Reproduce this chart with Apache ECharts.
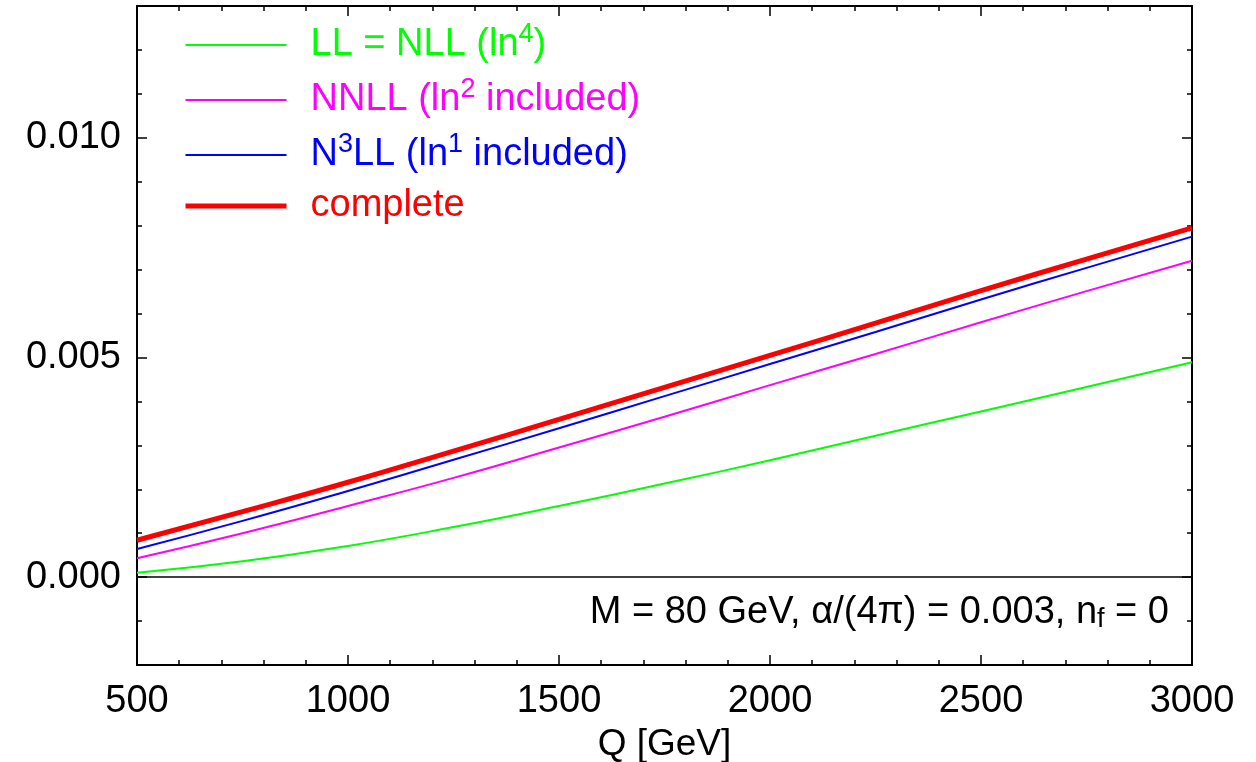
<!DOCTYPE html>
<html>
<head>
<meta charset="utf-8">
<script src="https://cdn.jsdelivr.net/npm/echarts@6/dist/echarts.min.js"></script>
<style>
  html, body { margin: 0; padding: 0; background: #fff; }
  #chart { width: 1256px; height: 762px; }
</style>
</head>
<body>
<div id="chart"></div>
<script>
// values
const qValues = [500, 750, 1000, 1250, 1500, 1750, 2000, 2250, 2500, 2750, 3000]
const llNll = [0.00010, 0.00036, 0.00071, 0.00114, 0.00162, 0.00213, 0.00266, 0.00322, 0.00377, 0.00433, 0.00489]
const nnll = [0.00043, 0.00100, 0.00162, 0.00226, 0.00295, 0.00365, 0.00437, 0.00508, 0.00580, 0.00651, 0.00720]
const n3ll = [0.00064, 0.00128, 0.00196, 0.00267, 0.00339, 0.00412, 0.00485, 0.00558, 0.00632, 0.00704, 0.00775]
const complete = [0.00084, 0.00149, 0.00216, 0.00287, 0.00359, 0.00432, 0.00505, 0.00578, 0.00652, 0.00724, 0.00795]

const seriesNames = ['LL = NLL', 'NNLL', 'N3LL', 'complete']
const seriesColors = ['#00ff00', '#ff00ff', '#0000ff', '#ff0000']
const lineWidths = [2, 2, 2, 5]
const legendLabels = [
  '{g|LL = NLL (ln}{gs|4}{g|)}',
  '{m|NNLL (ln}{ms|2}{m| included)}',
  '{b|N}{bs|3}{b|LL (ln}{bs|1}{b| included)}',
  '{r|complete}'
]
const yLabelValues = [0, 0.005, 0.01]

const font = 'Liberation Sans'
const pairs = ys => qValues.map((q, i) => [q, ys[i]])

const main = (color) => ({ color, fontSize: 38, lineHeight: 40, fontFamily: font, fontWeight: 'normal' })
const sup = (color) => ({
  color, fontSize: 27, lineHeight: 20, verticalAlign: 'bottom', padding: [0, 0, 17, 0],
  fontFamily: font, fontWeight: 'normal'
})

const chart = echarts.init(document.getElementById('chart'))

const frame = { show: true, onZero: false, lineStyle: { color: '#000', width: 2 } }
const tickStyle = { color: '#000', width: 1.5 }

const lineSeries = (i, ys) => ({
  name: seriesNames[i], type: 'line', data: pairs(ys), smooth: 0.5, symbol: 'none',
  lineStyle: { color: seriesColors[i], width: lineWidths[i] }, itemStyle: { color: seriesColors[i] }
})

const greenSeries = lineSeries(0, llNll)
// zero line
greenSeries.markLine = {
  silent: true, symbol: ['none', 'none'], label: { show: false },
  lineStyle: { color: '#000', width: 1.5, type: 'solid' },
  data: [{ yAxis: 0 }]
}

const option = {
  animation: false,
  backgroundColor: '#fff',
  grid: { left: 137, right: 64, top: 6, bottom: 97, outerBoundsMode: 'none', containLabel: false },
  title: {
    text: '{a|M = 80 GeV, α/(4π) = 0.003, n}{s|f}{a| = 0}',
    right: 87,
    top: 593,
    padding: 0,
    textStyle: {
      rich: {
        a: { color: '#000', fontSize: 38, lineHeight: 40, fontFamily: font, fontWeight: 'normal' },
        s: { color: '#000', fontSize: 27, lineHeight: 22, verticalAlign: 'bottom', fontFamily: font, fontWeight: 'normal' }
      }
    }
  },
  legend: {
    orient: 'vertical',
    left: 183,
    top: 21,
    itemWidth: 101,
    itemHeight: 40,
    itemGap: 11,
    padding: 0,
    itemStyle: { opacity: 0 },
    data: seriesNames.map((name, i) => ({
      name, lineStyle: { color: seriesColors[i], width: lineWidths[i] }
    })),
    formatter: name => legendLabels[seriesNames.indexOf(name)],
    textStyle: {
      padding: [0, 0, 0, 19],
      lineHeight: 40,
      rich: {
        g: main('#00ff00'), gs: sup('#00ff00'),
        m: main('#ff00ff'), ms: sup('#ff00ff'),
        b: main('#0000ff'), bs: sup('#0000ff'),
        r: main('#ff0000')
      }
    }
  },
  xAxis: [
    {
      type: 'value', position: 'bottom', min: 500, max: 3000, interval: 500,
      name: 'Q [GeV]', nameLocation: 'middle', nameGap: 56,
      nameTextStyle: { color: '#000', fontSize: 37, fontFamily: font },
      axisLine: frame,
      axisTick: { inside: true, length: 10, lineStyle: tickStyle },
      minorTick: { show: true, splitNumber: 5, length: 5, lineStyle: tickStyle },
      axisLabel: { color: '#000', fontSize: 38, fontFamily: font, margin: 18, formatter: v => String(v) },
      splitLine: { show: false }
    },
    {
      type: 'value', position: 'top', min: 500, max: 3000, interval: 500,
      axisLine: frame,
      axisTick: { inside: true, length: 10, lineStyle: tickStyle },
      minorTick: { show: true, splitNumber: 5, length: 5, lineStyle: tickStyle },
      axisLabel: { show: false },
      splitLine: { show: false }
    }
  ],
  yAxis: [
    {
      type: 'value', position: 'left', min: -0.002, max: 0.013, interval: 0.001,
      axisLine: frame,
      axisTick: { inside: true, length: 5, lineStyle: tickStyle },
      axisLabel: {
        color: '#000', fontSize: 38, fontFamily: font, margin: 16,
        formatter: v => yLabelValues.some(t => Math.abs(t - v) < 1e-9) ? v.toFixed(3) : ''
      },
      splitLine: { show: false }
    },
    {
      type: 'value', position: 'left', min: -0.002, max: 0.013,
      axisLine: { show: false },
      axisTick: { inside: true, length: 10, lineStyle: tickStyle, customValues: yLabelValues },
      axisLabel: { show: false },
      splitLine: { show: false }
    },
    {
      type: 'value', position: 'right', min: -0.002, max: 0.013, interval: 0.001,
      axisLine: frame,
      axisTick: { inside: true, length: 5, lineStyle: tickStyle },
      axisLabel: { show: false },
      splitLine: { show: false }
    },
    {
      type: 'value', position: 'right', min: -0.002, max: 0.013,
      axisLine: { show: false },
      axisTick: { inside: true, length: 10, lineStyle: tickStyle, customValues: yLabelValues },
      axisLabel: { show: false },
      splitLine: { show: false }
    }
  ],
  series: [
    greenSeries,
    lineSeries(1, nnll),
    lineSeries(2, n3ll),
    lineSeries(3, complete)
  ]
}

chart.setOption(option)
</script>
</body>
</html>
